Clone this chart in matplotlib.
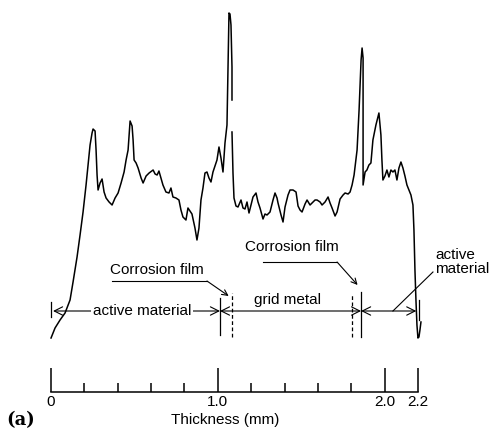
import numpy as np
import matplotlib
matplotlib.use("Agg")
import matplotlib.pyplot as plt

plt.rcParams['font.family'] = ['Liberation Sans', 'DejaVu Sans']

# line scan trace (thickness in mm, intensity in arbitrary units)
thickness_mm = [
    0.000, 0.024, 0.054, 0.084, 0.114, 0.132, 0.156, 0.174, 0.192, 0.210,
    0.222, 0.234, 0.246, 0.252, 0.264, 0.270, 0.276, 0.282, 0.294, 0.306,
    0.318, 0.330, 0.348, 0.366, 0.384, 0.402, 0.420, 0.438, 0.450, 0.462,
    0.474, 0.486, 0.492, 0.498, 0.510, 0.522, 0.540, 0.552, 0.570, 0.588,
    0.612, 0.624, 0.636, 0.647, 0.659, 0.671, 0.689, 0.707, 0.719, 0.731,
    0.749, 0.767, 0.779, 0.791, 0.809, 0.821, 0.833, 0.845, 0.863, 0.875,
    0.887, 0.899, 0.911, 0.923, 0.935, 0.947, 0.959, 0.971, 0.983, 0.995,
    1.007, 1.019, 1.031, 1.043, 1.055, 1.061, 1.067, 1.073, 1.079, 1.085,
    1.085, 1.085, 1.085,
    1.091, 1.097, 1.109, 1.121, 1.139, 1.151, 1.163, 1.175,
    1.187, 1.199, 1.211, 1.229, 1.241, 1.253, 1.271, 1.283, 1.295, 1.313,
    1.331, 1.343, 1.355, 1.361, 1.379, 1.391, 1.403, 1.421, 1.433, 1.451,
    1.469, 1.481, 1.493, 1.505, 1.523, 1.535, 1.553, 1.565, 1.583, 1.595,
    1.613, 1.625, 1.643, 1.661, 1.673, 1.685, 1.703, 1.715, 1.733, 1.751,
    1.763, 1.781, 1.793, 1.805, 1.817, 1.835, 1.847, 1.859, 1.865, 1.871,
    1.871, 1.871, 1.871, 1.883, 1.894, 1.906, 1.918, 1.930, 1.948, 1.966,
    1.978, 1.984, 1.990, 2.002, 2.014, 2.026, 2.038, 2.050, 2.062, 2.074,
    2.086, 2.098, 2.110, 2.122, 2.134, 2.146, 2.158, 2.170, 2.176, 2.182,
    2.188, 2.194, 2.200, 2.206, 2.212, 2.218,
]
intensity = [
    2, 12, 20, 27, 40, 58, 83, 105, 128, 155,
    175, 195, 207, 211, 209, 190, 165, 150, 157, 161,
    148, 142, 138, 135, 142, 147, 157, 168, 180, 190,
    219, 214, 200, 180, 177, 172, 162, 157, 164, 167,
    170, 166, 165, 169, 162, 155, 148, 147, 152, 143,
    142, 140, 130, 123, 120, 132, 129, 126, 112, 100,
    112, 140, 152, 167, 168, 162, 158, 168, 174, 180,
    193, 182, 168, 197, 215, 270, 327, 326, 315, 273,
    240, np.nan, 208,  # break in the recorder trace
    167, 142, 134, 133, 140, 132, 131, 138,
    127, 135, 143, 147, 138, 132, 121, 126, 125, 128,
    140, 147, 142, 137, 125, 118, 133, 145, 150, 150,
    148, 134, 130, 128, 136, 140, 135, 137, 140, 140,
    138, 135, 138, 143, 137, 132, 124, 128, 141, 145,
    147, 146, 148, 155, 165, 190, 230, 280, 292, 282,
    240, 190, 155, 168, 170, 175, 177, 200, 215, 227,
    205, 180, 160, 164, 170, 163, 170, 168, 170, 160,
    172, 178, 172, 164, 155, 150, 145, 135, 110, 70,
    40, 15, 2, 3, 10, 18,
]

major_ticks = [0.0, 1.0, 2.0, 2.2]
major_labels = ['0', '1.0', '2.0', '2.2']
minor_ticks = [0.2, 0.4, 0.6, 0.8, 1.2, 1.4, 1.6, 1.8]

# layer boundaries (mm)
film1_start, film1_end = 1.013, 1.085
film2_start, film2_end = 1.805, 1.859
sample_end = 2.19

xlim = (-0.306, 2.650)
ylim = (-88, 340)

fig = plt.figure(figsize=(4.93, 4.28), dpi=100)
ax = fig.add_axes([0, 0, 1, 1])
ax.set_xlim(xlim)
ax.set_ylim(ylim)
ax.axis('off')

ax.plot(thickness_mm, intensity, color='black', lw=1.1)

# dimension lines
dim_y = 29
arrow = dict(arrowstyle='<->,head_length=0.5,head_width=0.25', color='black',
             lw=0.8, shrinkA=0, shrinkB=0, mutation_scale=12)
ax.annotate('', xy=(0.012, dim_y), xytext=(film1_start, dim_y), arrowprops=arrow)
ax.annotate('', xy=(film1_start, dim_y), xytext=(film2_end, dim_y), arrowprops=arrow)
ax.annotate('', xy=(film2_end, dim_y), xytext=(sample_end, dim_y), arrowprops=arrow)

ax.plot([0.0, 0.0], [23, 38], color='black', lw=0.9)
ax.plot([2.206, 2.206], [20, 40], color='black', lw=0.9)
ax.plot([film1_start, film1_start], [5, 42], color='black', lw=0.9)
ax.plot([film2_end, film2_end], [3, 48], color='black', lw=0.9)
ax.plot([film1_end, film1_end], [3, 47], color='black', lw=0.9, ls=(0, (3, 2)))
ax.plot([film2_start, film2_start], [3, 45], color='black', lw=0.9, ls=(0, (3, 2)))

ax.text(0.546, dim_y, 'active material', fontsize=11, ha='center', va='center',
        bbox=dict(facecolor='white', edgecolor='none', pad=1.5))
ax.text(1.415, 40, 'grid metal', fontsize=11, ha='center', va='center')

# corrosion film labels with leaders
leader = dict(arrowstyle='->,head_length=0.4,head_width=0.2', color='black',
              lw=0.8, shrinkA=0, shrinkB=0, mutation_scale=10)
ax.text(0.636, 70, 'Corrosion film', fontsize=11, ha='center', va='center')
ax.plot([0.366, 0.935], [59, 59], color='black', lw=0.8)
ax.annotate('', xy=(1.065, 44), xytext=(0.935, 59), arrowprops=leader)

ax.text(1.445, 93, 'Corrosion film', fontsize=11, ha='center', va='center')
ax.plot([1.271, 1.715], [78, 78], color='black', lw=0.8)
ax.annotate('', xy=(1.838, 55), xytext=(1.715, 78), arrowprops=leader)

ax.text(2.302, 78, 'active\nmaterial', fontsize=11, ha='left', va='center',
        linespacing=1.0)
ax.plot([2.290, 2.050], [68, dim_y], color='black', lw=0.8)

# thickness scale
ax2 = fig.add_axes([0, (428 - 392) / 428, 1, 0.06])
ax2.set_xlim(xlim)
ax2.set_ylim(0, 1)
ax2.patch.set_visible(False)
for s in ['top', 'left', 'right']:
    ax2.spines[s].set_visible(False)
ax2.spines['bottom'].set_bounds(0, 2.2)
ax2.spines['bottom'].set_linewidth(1.1)
ax2.set_yticks([])
ax2.set_xticks(major_ticks, major_labels)
ax2.set_xticks(minor_ticks, minor=True)
ax2.tick_params(axis='x', which='major', direction='in', length=17, width=1.1,
                pad=2, labelsize=11)
ax2.tick_params(axis='x', which='minor', direction='in', length=6.5, width=1.1)

fig.text(225 / 493, 8 / 428, 'Thickness (mm)', fontsize=11, ha='center', va='center')
fig.text(21 / 493, 8 / 428, '(a)', fontsize=13, ha='center', va='center',
         family='DejaVu Serif', weight='bold')

fig.savefig('out.png', dpi=100)
